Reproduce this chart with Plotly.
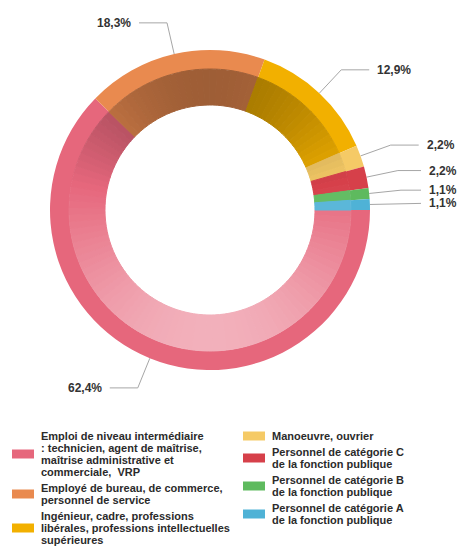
import numpy as np
import plotly.graph_objects as go

# données
categories = [
    "Emploi de niveau intermédiaire<br>: technicien, agent de maîtrise,<br>maîtrise administrative et<br>commerciale,  VRP",
    "Employé de bureau, de commerce,<br>personnel de service",
    "Ingénieur, cadre, professions<br>libérales, professions intellectuelles<br>supérieures",
    "Manoeuvre, ouvrier",
    "Personnel de catégorie C<br>de la fonction publique",
    "Personnel de catégorie B<br>de la fonction publique",
    "Personnel de catégorie A<br>de la fonction publique",
]
shares = [62.4, 18.3, 12.9, 2.2, 2.2, 1.1, 1.1]
colors = ["#e6677c", "#e98a4f", "#f2b000", "#f5ca66", "#d6404a", "#5eba5e", "#4fb2d6"]

# la page a une marge de 8 px : on travaille en coordonnées de fenêtre
WIN_W, WIN_H, OFF = 466, 549, 8
W, H = WIN_W - OFF, WIN_H - OFF
cx, cy = 210, 210
R, R_RIM, R_HOLE = 160, 141, 105
FONT = "Liberation Sans, Arial, sans-serif"


def shade(hex_c, s):
    rgb = [int(hex_c[i:i + 2], 16) for i in (1, 3, 5)]
    if s < 0:
        rgb = [c * (1 + s) for c in rgb]
    else:
        rgb = [c + (255 - c) * s for c in rgb]
    return "rgb(%d,%d,%d)" % tuple(round(c) for c in rgb)


def dom(r):
    return dict(x=[(cx - r - OFF) / W, (cx + r - OFF) / W],
                y=[1 - (cy + r - OFF) / H, 1 - (cy - r - OFF) / H])


total = sum(shares)
r_mid = (R_RIM + R_HOLE) / 2


def inner_tone(c, ang):
    y_mid = cy - r_mid * np.cos(np.radians(ang))
    t = (y_mid - (cy - r_mid)) / (2 * r_mid)
    return shade(c, -0.32 + 0.80 * t)


# découpage de la bande intérieure pour le dégradé vertical
piece_vals, piece_cols = [], []
angle = 90.0
for v, c in zip(shares, colors):
    span = v / total * 360
    n = max(1, int(round(v / 0.8)))
    for k in range(n):
        piece_vals.append(v / n)
        piece_cols.append(inner_tone(c, angle + (k + 0.5) * span / n))
    angle += span

pie_common = dict(sort=False, direction="clockwise", rotation=90, textinfo="none",
                  hoverinfo="skip", showlegend=False)

fig = go.Figure()

# anneau extérieur
fig.add_trace(go.Pie(values=shares, labels=categories, hole=R_RIM / R, domain=dom(R),
                     marker=dict(colors=colors, line=dict(width=0)), **pie_common))
# bande intérieure en dégradé
fig.add_trace(go.Pie(values=piece_vals, hole=R_HOLE / R_RIM, domain=dom(R_RIM),
                     marker=dict(colors=piece_cols, line=dict(width=1, color=piece_cols)),
                     **pie_common))

# étiquettes et connecteurs
R_LAB = 192
annotations = []
lx, ly = [], []
angle = 90.0
prev_right = -1e9
for v in shares:
    span = v / total * 360
    mid = np.radians(angle + span / 2)
    angle += span
    sx, sy = cx + R * np.sin(mid), cy - R * np.cos(mid)
    y = cy - R_LAB * np.cos(mid)
    right = np.sin(mid) >= 0
    if right:
        y = max(y, prev_right + 12)
        prev_right = y
    dx = np.sqrt(max(R_LAB ** 2 - (y - cy) ** 2, 0))
    ex = cx + dx if right else cx - dx
    hx = ex + 28 if right else ex - 28
    if right and hx + 34 > 455:
        hx = 455 - 34
    lx += [sx, ex, hx, None]
    ly += [sy, y, y, None]
    annotations.append(dict(
        x=hx + (6 if right else -6), y=y, xref="x", yref="y",
        text="<b>%s%%</b>" % ("%.1f" % v).replace(".", ","),
        xanchor="left" if right else "right", yanchor="middle", showarrow=False,
        font=dict(family=FONT, size=12, color="#333333")))

fig.add_trace(go.Scatter(x=lx, y=ly, mode="lines", line=dict(color="#a6a6a6", width=1),
                         hoverinfo="skip", showlegend=False))

# légende manuelle en deux colonnes
shapes = []
columns = [(range(0, 3), 12), (range(3, 7), 243)]
for idx, x0 in columns:
    y = 436
    for i in idx:
        lines = categories[i].split("<br>")
        y_first = y
        for ln in lines:
            annotations.append(dict(
                x=x0 + 27, y=y, xref="x", yref="y", text="<b>%s</b>" % ln,
                xanchor="left", yanchor="middle", showarrow=False,
                font=dict(family=FONT, size=11, color="#2b2b2b")))
            y += 12
        yc = (y_first + y - 12) / 2
        shapes.append(dict(type="rect", xref="x", yref="y", x0=x0, x1=x0 + 22,
                           y0=yc - 4.5, y1=yc + 4.5, fillcolor=colors[i], line=dict(width=0)))
        y += 4

fig.update_layout(
    width=W, height=H, autosize=False,
    margin=dict(l=0, r=0, t=0, b=0),
    paper_bgcolor="white", plot_bgcolor="white",
    xaxis=dict(range=[OFF, WIN_W], visible=False, fixedrange=True),
    yaxis=dict(range=[WIN_H, OFF], visible=False, fixedrange=True),
    annotations=annotations, shapes=shapes,
    showlegend=False,
)

fig.write_html("out.html")
